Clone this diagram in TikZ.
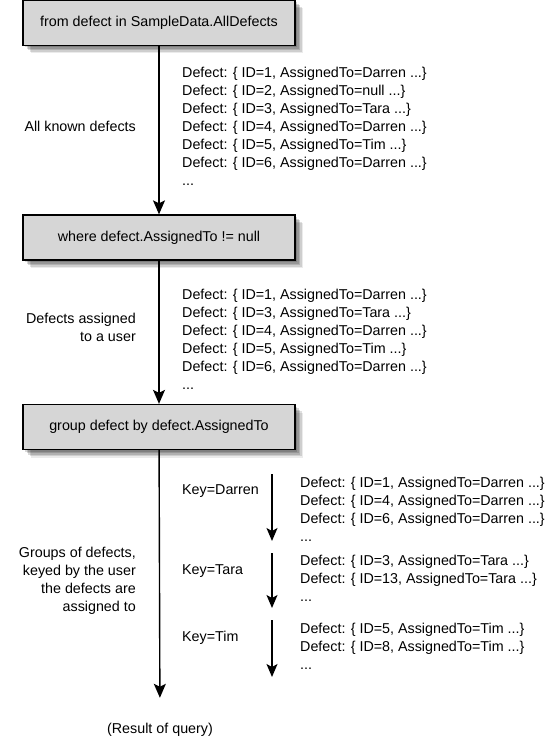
\documentclass[tikz,border=0pt]{standalone}
\usepackage{fontspec}
\setmainfont{Liberation Sans}
\usetikzlibrary{arrows.meta,shadows,positioning}

\tikzset{
    query/.style={draw=black, line width=1.3pt, fill=black!16,
        minimum width=272pt, minimum height=45pt, inner sep=0pt,
        general shadow={shadow xshift=2pt, shadow yshift=-2pt, fill=black, opacity=.15},
        general shadow={shadow xshift=3.5pt, shadow yshift=-3.5pt, fill=black, opacity=.15},
        general shadow={shadow xshift=5pt, shadow yshift=-5pt, fill=black, opacity=.15},
        general shadow={shadow xshift=6.5pt, shadow yshift=-6.5pt, fill=black, opacity=.12},
        general shadow={shadow xshift=8pt, shadow yshift=-8pt, fill=black, opacity=.08}},
    flow/.style={line width=1.4pt, -{Stealth[length=14pt,width=12pt,inset=3pt]}},
    keyarr/.style={line width=1.2pt, -{Stealth[length=13pt,width=11pt,inset=3pt]}},
    items/.style={anchor=north west, align=left, inner sep=0pt},
    note/.style={align=right, inner sep=0pt},
    keylabel/.style={anchor=west, inner sep=0pt}
}

\begin{document}
\begin{tikzpicture}[x=1pt, y=-1pt, font=\fontsize{14.3}{18}\selectfont]
    \useasboundingbox (0,0) rectangle (547,752);

    \def\mainx{159}  % x of the main flow line
    \def\listx{182}  % left edge of the item lists
    \def\notex{136}  % right edge of the notes
    \def\keyx{272}   % x of the per-key arrows
    \def\grpx{300}   % left edge of the grouped lists
    \def\top{5.4}    % from the top of a list to the middle of its first line

    % Query clauses
    \node[query] (from) at (\mainx, 23) {from defect in SampleData.AllDefects};
    \node[query] (where) at (\mainx, 237.5) {where defect.AssignedTo != null};
    \node[query] (group) at (\mainx, 427) {group defect by defect.AssignedTo};
    \node (res) at (160, 730) {(Result of query)};

    % Main flow
    \draw[flow] (from) -- (where);
    \draw[flow] (where) -- (group);
    \draw[flow, shorten >=22pt] (group) -- (res);

    % All known defects
    \node[note, anchor=east] (allnote) at (\notex, 126) {All known defects};
    \node[items] (alllist) at (\listx, 72-\top) {Defect: \{ ID=1, AssignedTo=Darren ...\}\\
        Defect: \{ ID=2, AssignedTo=null ...\}\\
        Defect: \{ ID=3, AssignedTo=Tara ...\}\\
        Defect: \{ ID=4, AssignedTo=Darren ...\}\\
        Defect: \{ ID=5, AssignedTo=Tim ...\}\\
        Defect: \{ ID=6, AssignedTo=Darren ...\}\\
        ...};

    % Defects with a user
    \node[note, anchor=north east] (usernote) at (\notex, 318-\top) {Defects assigned\\to a user};
    \node[items] (userlist) at (\listx, 294-\top) {Defect: \{ ID=1, AssignedTo=Darren ...\}\\
        Defect: \{ ID=3, AssignedTo=Tara ...\}\\
        Defect: \{ ID=4, AssignedTo=Darren ...\}\\
        Defect: \{ ID=5, AssignedTo=Tim ...\}\\
        Defect: \{ ID=6, AssignedTo=Darren ...\}\\
        ...};

    % Groups
    \node[note, anchor=north east] (grpnote) at (\notex, 552-\top) {Groups of defects,\\keyed by the user\\the defects are\\assigned to};

    % Key=Darren
    \node[keylabel] (kdarren) at (\listx, 491) {Key=Darren};
    \coordinate (darrentop) at (\keyx, 474);
    \coordinate (darrenend) at (\keyx, 541);
    \draw[keyarr] (darrentop) -- (darrenend);
    \node[items] (darrenlist) at (\grpx, 482-\top) {Defect: \{ ID=1, AssignedTo=Darren ...\}\\
        Defect: \{ ID=4, AssignedTo=Darren ...\}\\
        Defect: \{ ID=6, AssignedTo=Darren ...\}\\
        ...};

    % Key=Tara
    \node[keylabel] (ktara) at (\listx, 571) {Key=Tara};
    \coordinate (taratop) at (\keyx, 553);
    \coordinate (taraend) at (\keyx, 608);
    \draw[keyarr] (taratop) -- (taraend);
    \node[items] (taralist) at (\grpx, 560-\top) {Defect: \{ ID=3, AssignedTo=Tara ...\}\\
        Defect: \{ ID=13, AssignedTo=Tara ...\}\\
        ...};

    % Key=Tim
    \node[keylabel] (ktim) at (\listx, 638) {Key=Tim};
    \coordinate (timtop) at (\keyx, 620);
    \coordinate (timend) at (\keyx, 677);
    \draw[keyarr] (timtop) -- (timend);
    \node[items] (timlist) at (\grpx, 628-\top) {Defect: \{ ID=5, AssignedTo=Tim ...\}\\
        Defect: \{ ID=8, AssignedTo=Tim ...\}\\
        ...};

\end{tikzpicture}
\end{document}
